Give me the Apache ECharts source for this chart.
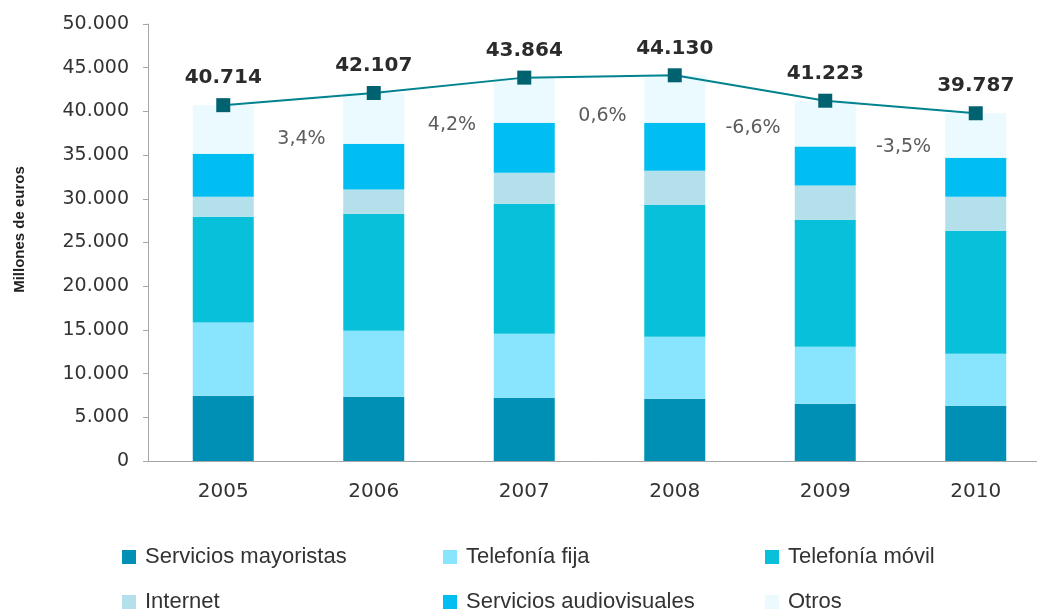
<!DOCTYPE html>
<html lang="es">
  <head>
    <meta charset="utf-8" />
    <script type="text/javascript" src="https://cdn.jsdelivr.net/npm/echarts@6/dist/echarts.min.js"></script>
    <title>Ingresos por servicio</title>
    <style>
      html, body { margin: 0; padding: 0; background: #fff; }
      #chart { width: 1037px; height: 610px; }
    </style>
  </head>
  <body>
    <div id="chart"></div>
    <script>
      // Data (millones de euros)
      var years = ['2005', '2006', '2007', '2008', '2009', '2010']
      var mayoristas = [7470, 7360, 7250, 7130, 6560, 6330]
      var fija = [8380, 7550, 7320, 7090, 6520, 5950]
      var movil = [12100, 13390, 14870, 15110, 14530, 14070]
      var internet = [2290, 2750, 3550, 3880, 3910, 3890]
      var audiovisual = [4920, 5250, 5720, 5500, 4470, 4460]
      var otros = [5554, 5807, 5154, 5420, 5233, 5087]
      var totals = [40714, 42107, 43864, 44130, 41223, 39787]
      var growth = ['3,4%', '4,2%', '0,6%', '-6,6%', '-3,5%']

      var fmt = function (v) {
        return String(Math.round(v)).replace(/\B(?=(\d{3})+(?!\d))/g, '.')
      }

      var stacks = [
        { name: 'Servicios mayoristas', data: mayoristas, color: '#0090b5' },
        { name: 'Telefonía fija', data: fija, color: '#88e5fd' },
        { name: 'Telefonía móvil', data: movil, color: '#08c0d9' },
        { name: 'Internet', data: internet, color: '#b3e0ea' },
        { name: 'Servicios audiovisuales', data: audiovisual, color: '#00bdf2' },
        { name: 'Otros', data: otros, color: '#eafaff' }
      ]

      var series = stacks.map(function (s) {
        return {
          name: s.name,
          type: 'bar',
          stack: 'total',
          barWidth: 61,
          data: s.data,
          itemStyle: { color: s.color },
          emphasis: { disabled: true }
        }
      })

      series.push({
        name: 'Total',
        type: 'line',
        data: totals,
        symbol: 'rect',
        symbolSize: 14,
        z: 5,
        lineStyle: { color: '#00838f', width: 2 },
        itemStyle: { color: '#00616f' },
        label: {
          show: true,
          position: 'top',
          distance: 10,
          formatter: function (p) { return fmt(p.value) },
          fontFamily: 'DejaVu Sans',
          fontWeight: 'bold',
          fontSize: 20,
          color: '#2b2b2b'
        }
      })

      // growth labels sit between the bars, a bit below the line
      var growthPts = growth.map(function (g, i) {
        return { value: [i + 1, (totals[i] + totals[i + 1]) / 2], label: { formatter: g } }
      })
      series.push({
        name: 'Variación',
        type: 'scatter',
        xAxisIndex: 1,
        symbolSize: 1,
        itemStyle: { color: 'rgba(0,0,0,0)' },
        data: growthPts,
        label: {
          show: true,
          position: 'inside',
          offset: [3, 40],
          fontFamily: 'DejaVu Sans',
          fontSize: 19,
          color: '#333'
        }
      })

      // one legend per cell: 3 columns x 2 rows
      var colLeft = [122, 443, 765]
      var rowTop = [546, 591]
      var legends = stacks.map(function (s, i) {
        return {
          data: [s.name],
          left: colLeft[i % 3],
          top: rowTop[Math.floor(i / 3)],
          padding: 0,
          icon: 'rect',
          itemWidth: 14,
          itemHeight: 14,
          selectedMode: false,
          textStyle: {
            fontFamily: 'Liberation Sans', fontSize: 22, color: '#333',
            padding: [0, 0, 0, 4]
          }
        }
      })

      var chart = echarts.init(document.getElementById('chart'))
      chart.setOption({
        animation: false,
        grid: { left: 148, right: -14, top: 24, bottom: 149, outerBoundsMode: 'none' },
        legend: legends,
        xAxis: [
          {
            type: 'category',
            data: years,
            axisLine: { lineStyle: { color: '#a6a6a6' } },
            axisTick: { length: 6, lineStyle: { color: '#a6a6a6' } },
            axisLabel: { margin: 21, fontFamily: 'DejaVu Sans', fontSize: 20, color: '#333' }
          },
          { type: 'value', min: 0, max: 6, show: false }
        ],
        yAxis: {
          type: 'value',
          min: 0, max: 50000, interval: 5000,
          name: 'Millones de euros',
          nameLocation: 'middle',
          nameGap: 121,
          nameTextStyle: {
            fontFamily: 'Liberation Sans', fontWeight: 'bold', fontSize: 15, color: '#222',
            padding: [0, 0, 0, 26]
          },
          splitLine: { show: false },
          axisLine: { show: true, lineStyle: { color: '#a6a6a6' } },
          axisTick: { show: true, length: 5, lineStyle: { color: '#a6a6a6' } },
          axisLabel: {
            margin: 19,
            fontFamily: 'DejaVu Sans',
            fontSize: 19,
            color: '#333',
            formatter: fmt
          }
        },
        series: series
      })
    </script>
  </body>
</html>
